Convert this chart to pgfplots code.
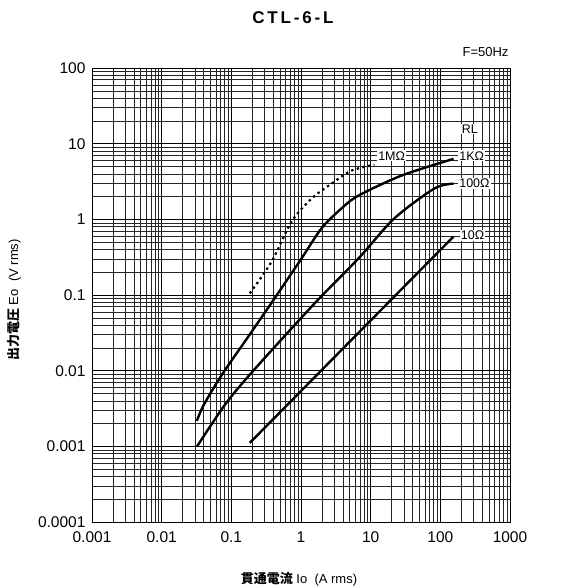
\documentclass[border=0pt]{standalone}
\usepackage{pgfplots}
\pgfplotsset{compat=1.18}
\usepackage{fontspec}
\setmainfont{Liberation Sans}
\newfontfamily\cjk{Noto Sans CJK JP}

\begin{document}
\begin{tikzpicture}
  \useasboundingbox (-92pt,-64pt) rectangle (477pt,522pt);
  \begin{axis}[
      xmode=log, ymode=log,
      scale only axis, width=418pt, height=454pt,
      xmin=0.001, xmax=1000, ymin=0.0001, ymax=100,
      xtick={0.001,0.01,0.1,1,10,100,1000},
      xticklabels={0.001,0.01,0.1,1,10,100,1000},
      ytick={0.0001,0.001,0.01,0.1,1,10,100},
      yticklabels={0.0001,0.001,0.01,0.1,1,10,100},
      grid=both,
      major grid style={black, line width=0.9pt},
      minor grid style={black!85, line width=0.5pt},
      tick style={draw=none},
      axis line style={black, line width=0.9pt},
      ticklabel style={font=\fontsize{15.5}{17}\selectfont},
      xticklabel style={yshift=-6pt},
      yticklabel style={xshift=-3pt},
      /pgf/number format/assume math mode=true,
      clip=false,
    ]
    % 1M ohm (dotted)
    \addplot[black, line width=2.2pt, dash pattern=on 2.4pt off 3.4pt, smooth] coordinates {
      (0.184,0.105)(0.38,0.278)(0.733,0.935)(1.42,1.88)(2.74,2.96)(5.3,4.4)(11.3,5.27)};
    % 1K ohm
    \addplot[black, line width=2.4pt, smooth] coordinates {
      (0.032,0.00217)(0.040,0.0035)(0.073,0.0088)(0.177,0.0286)(0.42,0.091)
      (1.02,0.305)(1.97,0.76)(3.8,1.39)(6.7,2.06)(27.6,3.78)(155,6.3)};
    % 100 ohm
    \addplot[black, line width=2.4pt, smooth] coordinates {
      (0.032,0.00099)(0.080,0.0035)(0.177,0.0085)(0.58,0.0286)(1.85,0.091)
      (6.7,0.305)(21.9,1.03)(82,2.55)(155,2.96)};
    % 10 ohm
    \addplot[black, line width=2.4pt] coordinates {
      (0.184,0.00111)(7.4,0.0348)(155,0.593)};

    \tikzset{lbl/.style={fill=white, inner sep=1pt, font=\fontsize{12.5}{14}\selectfont}}
    \node[lbl, anchor=center] at (axis cs:265,15.7) {RL};
    \node[lbl, anchor=center] at (axis cs:20,6.9) {1MΩ};
    \node[lbl, anchor=west] at (axis cs:180,6.9) {1KΩ};
    \node[lbl, anchor=west] at (axis cs:180,2.96) {100Ω};
    \node[lbl, anchor=west] at (axis cs:190,0.61) {10Ω};
  \end{axis}
  \node[font=\fontsize{17}{19}\selectfont\bfseries] at (201pt,504pt) {C\,T\,L\,-\,6\,-\,L};
  \node[anchor=east, font=\fontsize{13}{15}\selectfont] at (420pt,470pt) {F=50Hz};
  \node[font=\fontsize{13}{15}\selectfont] at (207pt,-57pt) {{\cjk\bfseries 貫通電流} Io\ \ (A rms)};
  \node[rotate=90, font=\fontsize{13}{15}\selectfont] at (-78pt,222pt) {{\cjk\bfseries 出力電圧} Eo\ \ (V rms)};
\end{tikzpicture}
\end{document}
